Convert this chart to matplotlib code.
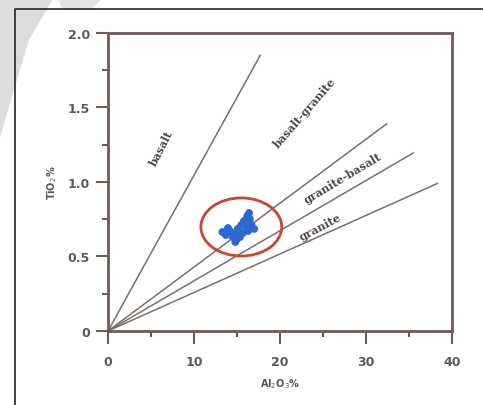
import numpy as np
import matplotlib
matplotlib.use('Agg')
import matplotlib.pyplot as plt
from matplotlib.patches import Ellipse, Polygon
from matplotlib.lines import Line2D

# 데이터
line_end_x = [17.7, 32.4, 35.5, 38.3]
line_end_y = [1.85, 1.39, 1.195, 0.99]

region_names = ['basalt', 'basalt-granite', 'granite-basalt', 'granite']
region_x = [6.2, 22.9, 27.3, 24.7]
region_y = [1.235, 1.47, 1.03, 0.705]
region_rot = [63, 49, 31, 28]

al2o3 = [13.3, 13.7, 14.2, 14.5, 14.8, 14.9, 15.1, 15.5, 15.8, 16.2,
         16.5, 16.7, 17.0, 16.3, 15.7, 16.05, 15.35, 13.95, 16.4, 15.0]
tio2 = [0.664, 0.644, 0.671, 0.631, 0.597, 0.651, 0.685, 0.711, 0.738, 0.772,
        0.752, 0.711, 0.685, 0.671, 0.658, 0.705, 0.631, 0.691, 0.792, 0.617]

# 시각화
fig = plt.figure(figsize=(4.83, 4.06), dpi=100)
fig.patch.set_facecolor('white')

# watermark swoosh + frame
fig.patches.append(Polygon([[0, 1], [0.11, 1], [0.06, 0.9], [0.0, 0.66]],
                           closed=True, transform=fig.transFigure,
                           facecolor='#dcdcdc', edgecolor='none', zorder=0))
fig.patches.append(Polygon([[0.12, 1], [0.21, 1], [0.19, 0.975], [0.13, 0.975]],
                           closed=True, transform=fig.transFigure,
                           facecolor='#e4e4e4', edgecolor='none', zorder=0))
fig.lines.append(Line2D([0.031, 0.031, 1.0], [0.0, 0.975, 0.975],
                        transform=fig.transFigure, color='#222222', lw=1.2))

ax = fig.add_axes([0.2236, 0.1823, 0.7122, 0.734])
ax.set_facecolor('white')
ax.set_xlim(0, 40)
ax.set_ylim(0, 2.0)

c_line = '#7d6e6a'
for ex, ey in zip(line_end_x, line_end_y):
    ax.plot([0, ex], [0, ey], color=c_line, lw=1.1, zorder=2)

for name, tx, ty, rot in zip(region_names, region_x, region_y, region_rot):
    ax.text(tx, ty, name, rotation=rot, ha='center', va='center',
            fontsize=8, family='DejaVu Serif', fontweight='bold', color='#4a4442')

ax.scatter(al2o3, tio2, s=32, color='#2a6ad0', edgecolors='none', zorder=4)
ax.add_patch(Ellipse((15.5, 0.698), 9.4, 0.39, fill=False,
                     edgecolor='#c9452f', lw=2, zorder=5))

c_ax = '#6b5c58'
for s in ax.spines.values():
    s.set_color(c_ax)
    s.set_linewidth(2)

ax.set_xticks([0, 10, 20, 30, 40])
ax.set_xticklabels(['0', '10', '20', '30', '40'])
ax.set_xticks([5, 15, 25, 35], minor=True)
ax.set_yticks([0, 0.5, 1.0, 1.5, 2.0])
ax.set_yticklabels(['0', '0.5', '1.0', '1.5', '2.0'])
ax.set_yticks([0.25, 0.75, 1.25, 1.75], minor=True)
ax.tick_params(which='major', length=9, width=1.5, color=c_ax,
               labelsize=9, labelcolor='#5a5a5a', pad=4)
ax.tick_params(axis='x', which='major', pad=8)
ax.tick_params(which='minor', length=4, width=1.5, color=c_ax)
for lab in ax.get_xticklabels() + ax.get_yticklabels():
    lab.set_fontweight('bold')

ax.set_xlabel('Al$_2$O$_3$%', fontsize=7, fontweight='bold', color='#555555', labelpad=6)
ax.set_ylabel('TiO$_2$%', fontsize=7, fontweight='bold', color='#555555', labelpad=6)

plt.savefig('out.png', dpi=100)
